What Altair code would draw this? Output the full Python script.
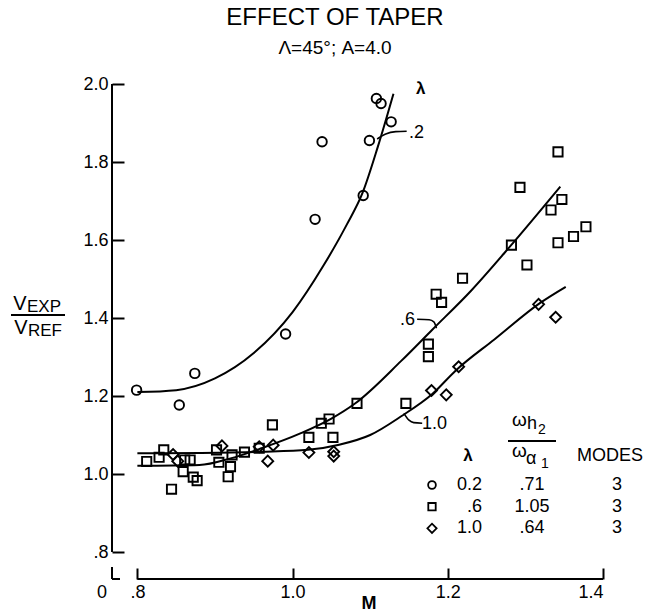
import altair as alt
import pandas as pd

FONT = "Liberation Sans"

# ---- data ----
circ_M = [0.799, 0.854, 0.874, 0.991, 1.029, 1.038, 1.091, 1.099, 1.108, 1.114, 1.127]
circ_V = [1.215, 1.177, 1.258, 1.359, 1.653, 1.852, 1.714, 1.855, 1.963, 1.950, 1.903]

sq_M = [0.812, 0.828, 0.834, 0.844, 0.859, 0.861, 0.868, 0.872, 0.877, 0.902, 0.905, 0.917,
        0.920, 0.922, 0.938, 0.957, 0.974, 1.021, 1.037, 1.047, 1.052, 1.083, 1.146, 1.175,
        1.175, 1.185, 1.192, 1.219, 1.282, 1.293, 1.302, 1.333, 1.342, 1.342, 1.347, 1.362, 1.378]
sq_V = [1.032, 1.043, 1.062, 0.961, 1.006, 1.036, 1.036, 0.992, 0.983, 1.062, 1.030, 0.993,
        1.019, 1.049, 1.056, 1.066, 1.126, 1.094, 1.130, 1.141, 1.094, 1.181, 1.181, 1.333,
        1.301, 1.461, 1.440, 1.502, 1.587, 1.735, 1.536, 1.677, 1.826, 1.593, 1.704, 1.609, 1.634]

dm_M = [0.846, 0.852, 0.909, 0.957, 0.968, 0.975, 1.021, 1.053, 1.053, 1.179, 1.198, 1.214, 1.317, 1.339]
dm_V = [1.050, 1.033, 1.072, 1.070, 1.033, 1.074, 1.055, 1.057, 1.046, 1.214, 1.203, 1.275, 1.435, 1.402]

# faired curves
c02_M = [0.80, 0.85, 0.90, 0.95, 1.00, 1.04, 1.07, 1.09, 1.11, 1.13]
c02_V = [1.21, 1.215, 1.245, 1.31, 1.415, 1.535, 1.64, 1.72, 1.84, 1.975]
c06_M = [0.80, 0.88, 0.92, 0.96, 1.01, 1.05, 1.08, 1.14, 1.18, 1.23, 1.28, 1.345]
c06_V = [1.021, 1.023, 1.040, 1.066, 1.104, 1.142, 1.18, 1.29, 1.37, 1.47, 1.583, 1.737]
c10_M = [0.80, 0.88, 0.96, 1.02, 1.06, 1.10, 1.14, 1.18, 1.21, 1.26, 1.32, 1.352]
c10_V = [1.053, 1.054, 1.057, 1.062, 1.075, 1.10, 1.148, 1.205, 1.265, 1.345, 1.44, 1.48]

# curve label leaders
l02_M = [1.109, 1.120, 1.133, 1.147]
l02_V = [1.859, 1.872, 1.878, 1.879]
l06_M = [1.1854, 1.1820, 1.1760, 1.1605]
l06_V = [1.374, 1.390, 1.3955, 1.3967]
l10_M = [1.1434, 1.1500, 1.1561, 1.1670]
l10_V = [1.1556, 1.1380, 1.1318, 1.1303]

x_ticks = [0.8, 1.0, 1.2, 1.4]
y_ticks = [0.8, 1.0, 1.2, 1.4, 1.6, 1.8, 2.0]

leg_lam = ["0.2", ".6", "1.0"]
leg_omega = [".71", "1.05", ".64"]
leg_modes = ["3", "3", "3"]
leg_shapes = ["circle", "square", "diamond"]

# ---- layout ----
PL, PT = 112, 84
W, H = 491, 495
xs = alt.Scale(domain=[0.7673, 1.4], nice=False, zero=False)
ys = alt.Scale(domain=[2.0 - H / 390.0, 2.0], nice=False, zero=False)

xaxis = alt.Axis(values=x_ticks, labelExpr="datum.value < 0.9 ? '.8' : format(datum.value, '.1f')",
                 offset=-11, tickSize=11, tickWidth=2, tickColor="black", domain=False, grid=False,
                 labelFont=FONT, labelFontSize=18, labelColor="black", labelPadding=4, title=None)
yaxis = alt.Axis(values=y_ticks, labelExpr="datum.value < 0.9 ? '.8' : format(datum.value, '.1f')",
                 offset=-12, tickSize=12, tickWidth=2, tickColor="black", domain=False, grid=False,
                 labelFont=FONT, labelFontSize=18, labelColor="black", labelPadding=4, title=None)


def X():
    return alt.X("M:Q", scale=xs, axis=xaxis)


def Y():
    return alt.Y("V:Q", scale=ys, axis=yaxis)


def df(m, v):
    return pd.DataFrame({"M": m, "V": v})


def curve(m, v, w=2.0):
    return alt.Chart(df(m, v)).mark_line(interpolate="monotone", color="black", strokeWidth=w).encode(x=X(), y=Y())


def pts(m, v, shape, size):
    return alt.Chart(df(m, v)).mark_point(shape=shape, size=size, filled=False, color="black",
                                          strokeWidth=1.9, opacity=1).encode(x=X(), y=Y())


one = alt.Data(values=[{"a": 1}])


def txt(s, x, y, size=18, align="left", baseline="middle", weight="normal"):
    return alt.Chart(one).mark_text(text=s, fontSize=size, align=align, baseline=baseline,
                                    font=FONT, fontWeight=weight, color="black").encode(
        x=alt.value(x - PL), y=alt.value(y - PT))


def rule(x1, y1, x2, y2, w=2):
    return alt.Chart(one).mark_rule(color="black", strokeWidth=w).encode(
        x=alt.value(x1 - PL), x2=alt.value(x2 - PL), y=alt.value(y1 - PT), y2=alt.value(y2 - PT))


layers = []
# axis lines (broken-axis style)
layers.append(alt.Chart(df([0.8, 1.4], [0, 0])).mark_line(color="black", strokeWidth=2).encode(
    x=X(), y=alt.value(H)))
layers.append(alt.Chart(df([0.7673, 0.7673], [0.8, 2.0])).mark_line(color="black", strokeWidth=2).encode(
    x=alt.value(0), y=Y()))
layers.append(rule(112, 567, 112, 579))
layers.append(rule(112, 579, 120, 579))

# curves
layers += [curve(c02_M, c02_V), curve(c06_M, c06_V), curve(c10_M, c10_V)]
layers += [curve(l02_M, l02_V, 1.6), curve(l06_M, l06_V, 1.6), curve(l10_M, l10_V, 1.6)]

# points
layers += [pts(circ_M, circ_V, "circle", 90), pts(sq_M, sq_V, "square", 85), pts(dm_M, dm_V, "diamond", 120)]

# curve labels
layers.append(txt(".2", 409, 133))
layers.append(txt(".6", 415, 320, align="right"))
layers.append(txt("1.0", 422, 424))
layers.append(txt("λ", 416, 89, size=17, weight="bold"))

# titles
layers.append(txt("EFFECT OF TAPER", 335, 18, size=24, align="center"))
layers.append(txt("Λ=45°; A=4.0", 335, 48, size=19, align="center"))

# axis titles
layers.append(txt("0", 102, 593, align="center"))
layers.append(txt("M", 369, 604, size=18, align="center", weight="bold"))
layers.append(txt("V", 20, 304, size=20, align="center"))
layers.append(txt("EXP", 27, 307, size=17))
layers.append(rule(11, 315, 65, 315, 2))
layers.append(txt("V", 21, 328, size=20, align="center"))
layers.append(txt("REF", 28, 331, size=17))

# legend table
layers.append(txt("ω", 512, 420, size=19))
layers.append(txt("h", 527, 424, size=18))
layers.append(txt("2", 538, 430, size=14))
layers.append(rule(508, 441, 556, 441, 2))
layers.append(txt("ω", 512, 451, size=19))
layers.append(txt("α", 526, 459, size=18))
layers.append(txt("1", 541, 464, size=14))
layers.append(txt("λ", 468, 456, size=17, align="center", weight="bold"))
layers.append(txt("MODES", 610, 456, size=18, align="center"))
row_y = [485, 506.7, 528.3]
for i in range(3):
    yy = row_y[i]
    layers.append(alt.Chart(one).mark_point(shape=leg_shapes[i], size=[60, 55, 85][i], filled=False,
                                            color="black", strokeWidth=1.8, opacity=1).encode(
        x=alt.value(432 - PL), y=alt.value(yy - PT)))
    layers.append(txt(leg_lam[i], 482, yy, align="right"))
    layers.append(txt(leg_omega[i], 532, yy, align="center"))
    layers.append(txt(leg_modes[i], 617, yy, align="center"))

chart = alt.layer(*layers).properties(
    width=W, height=H,
    padding={"left": PL, "top": PT, "right": 645 - PL - W, "bottom": 615 - PT - H},
    autosize=alt.AutoSizeParams(type="none"),
    background="white",
).configure_view(strokeWidth=0)

chart.save("out.html", embed_options={"renderer": "svg", "actions": False})
